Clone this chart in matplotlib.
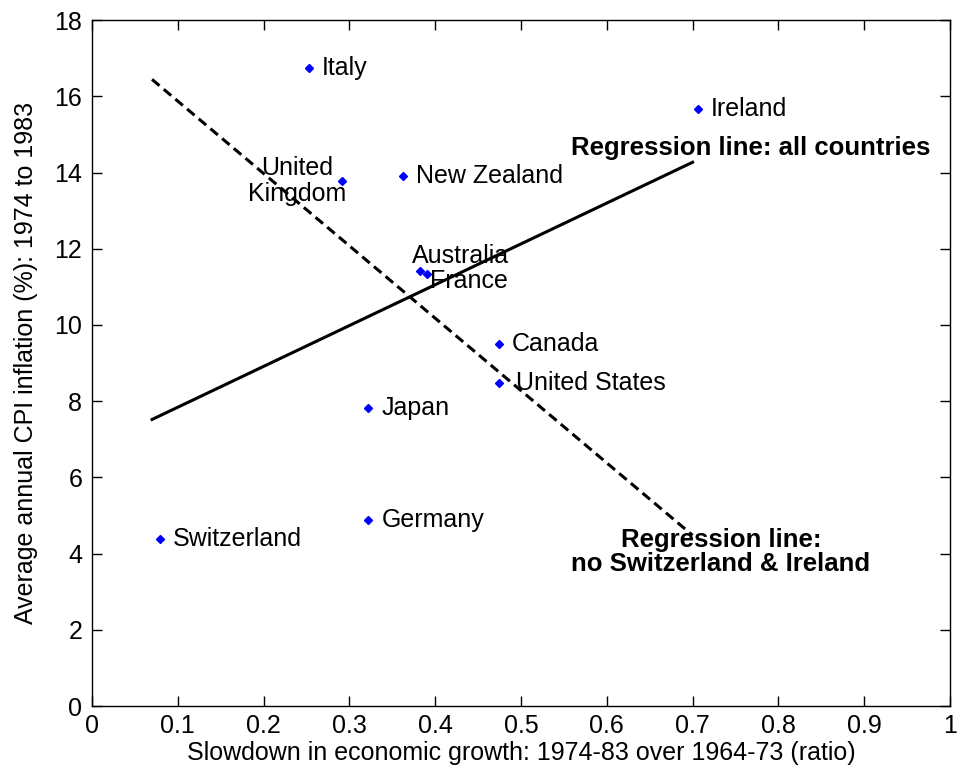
import numpy as np
import matplotlib.pyplot as plt

plt.rcParams['font.family'] = ['Liberation Sans', 'DejaVu Sans']

# Inflation vs growth slowdown, 1974-83
countries = ['Italy', 'Ireland', 'United\nKingdom', 'New Zealand', 'Australia', 'France',
             'Canada', 'United States', 'Japan', 'Germany', 'Switzerland']
slowdown = [0.253, 0.706, 0.291, 0.362, 0.382, 0.390, 0.474, 0.474, 0.322, 0.322, 0.079]
inflation = [16.74, 15.67, 13.78, 13.90, 11.42, 11.34, 9.50, 8.49, 7.82, 4.88, 4.38]
excluded = ['Switzerland', 'Ireland']
line_x = [0.07, 0.70]

x = np.array(slowdown)
y = np.array(inflation)
keep = np.array([c not in excluded for c in countries])

fig = plt.figure(figsize=(9.63, 7.75), dpi=100)
ax = fig.add_axes([0.0955, 0.089, 0.891, 0.885])

# regression lines
p_all = np.polyfit(x, y, 1)
p_sub = np.polyfit(x[keep], y[keep], 1)
ax.plot(line_x, np.polyval(p_all, line_x), color='black', lw=2.2)
ax.plot(line_x, np.polyval(p_sub, line_x), color='black', lw=2.2,
        linestyle=(0, (3.2, 1.8)))

ax.plot(x, y, 'D', color='blue', markersize=4.5, linestyle='none')

# country labels, placed to the right of each point
fs = 18
for c, xi, yi in zip(countries, slowdown, inflation):
    if c == 'United\nKingdom':
        ax.annotate(c, (xi, yi), xytext=(-45, 0), textcoords='offset pixels',
                    ha='center', va='center', fontsize=fs, multialignment='center',
                    linespacing=1.1)
    elif c == 'Australia':
        ax.annotate(c, (xi, yi), xytext=(-8, 15), textcoords='offset pixels',
                    ha='left', va='center', fontsize=fs)
    elif c == 'France':
        ax.annotate(c, (xi, yi), xytext=(3, -7), textcoords='offset pixels',
                    ha='left', va='center', fontsize=fs)
    elif c == 'United States':
        ax.annotate(c, (xi, yi), xytext=(17, 0), textcoords='offset pixels',
                    ha='left', va='center', fontsize=fs)
    else:
        ax.annotate(c, (xi, yi), xytext=(13, 0), textcoords='offset pixels',
                    ha='left', va='center', fontsize=fs)

ax.text(0.768, 14.64, 'Regression line: all countries', ha='center', va='center',
        fontsize=18.5, fontweight='bold')
ax.text(0.733, 4.05, 'Regression line:\nno Switzerland & Ireland', ha='center',
        va='center', fontsize=18.5, fontweight='bold', linespacing=1.0)

ax.set_xlim(0, 1)
ax.set_ylim(0, 18)
ax.set_xticks(np.arange(0, 1.01, 0.1))
ax.set_xticklabels(['0', '0.1', '0.2', '0.3', '0.4', '0.5', '0.6', '0.7', '0.8', '0.9', '1'])
ax.set_yticks(np.arange(0, 19, 2))
ax.tick_params(direction='in', length=7, width=1, top=True, right=True, labelsize=18)
ax.tick_params(axis='x', pad=6)
ax.tick_params(axis='y', pad=7)
for s in ax.spines.values():
    s.set_linewidth(1)

ax.set_xlabel('Slowdown in economic growth: 1974-83 over 1964-73 (ratio)', fontsize=18,
              labelpad=2)
ax.set_ylabel('Average annual CPI inflation (%): 1974 to 1983', fontsize=18, labelpad=12)

fig.savefig('out.png', dpi=100)
